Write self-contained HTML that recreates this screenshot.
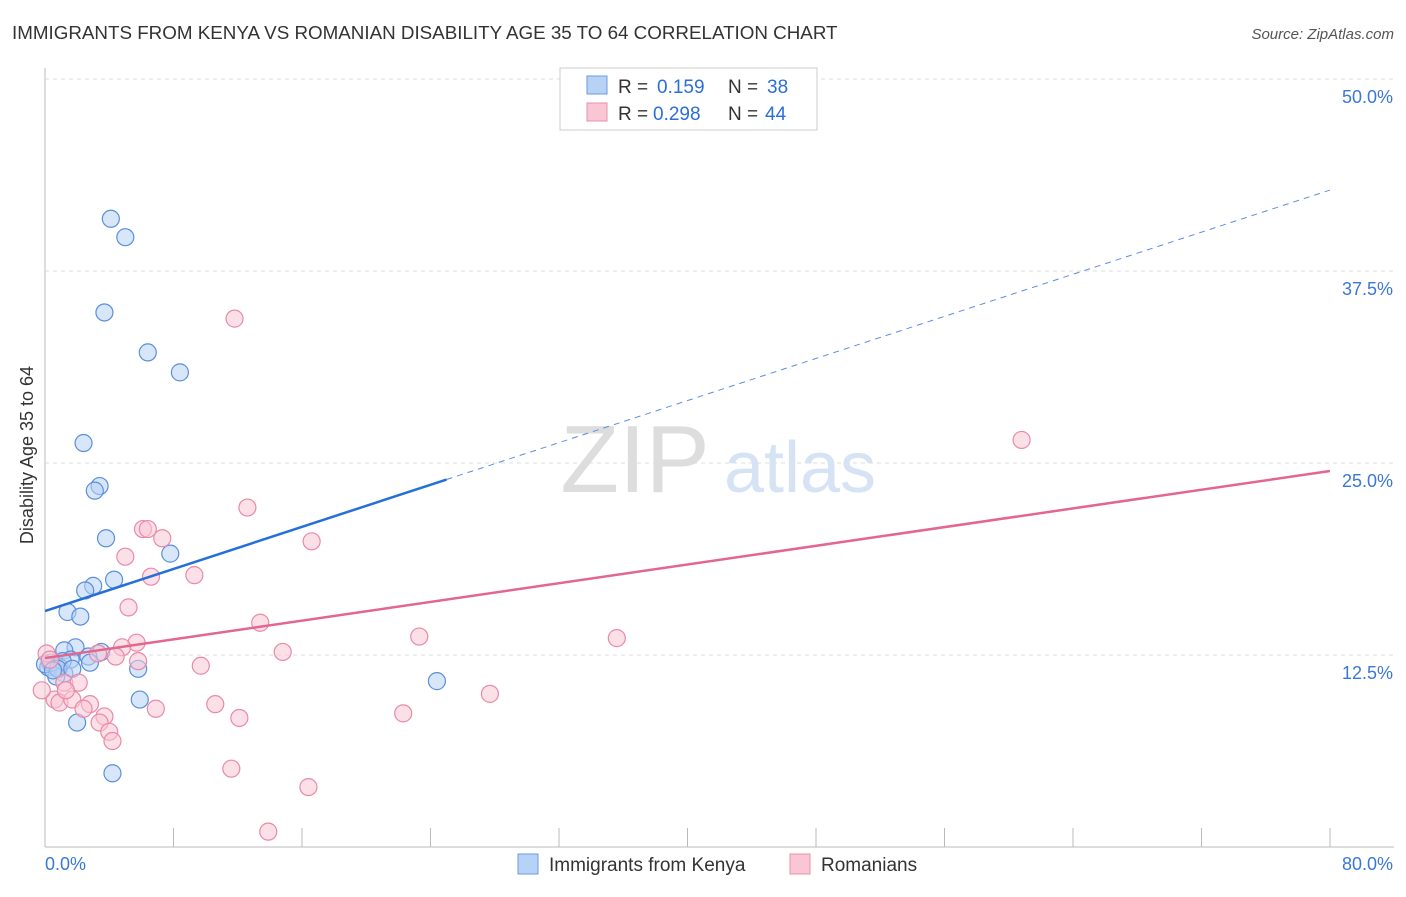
<!DOCTYPE html>
<html><head><meta charset="utf-8"><style>
body{margin:0;background:#fff;font-family:"Liberation Sans",sans-serif}
svg text{font-family:"Liberation Sans",sans-serif}
</style></head><body>
<svg id="c" width="1406" height="892">
<text x="12" y="39" font-size="18.8" fill="#333">IMMIGRANTS FROM KENYA VS ROMANIAN DISABILITY AGE 35 TO 64 CORRELATION CHART</text>
<text x="1394" y="39" font-size="15" fill="#555" font-style="italic" text-anchor="end">Source: ZipAtlas.com</text>
<text x="0" y="0" font-size="18" fill="#333" transform="translate(33,455) rotate(-90)" text-anchor="middle">Disability Age 35 to 64</text>
<g id="grid"></g>
<text x="635" y="492" font-size="96" fill="#ddd" font-family="Liberation Serif" text-anchor="middle">ZIP</text>
<text x="800" y="492" font-size="72" fill="#d6e3f5" text-anchor="middle">atlas</text>
<g id="marks"></g>
<g>
<rect x="560" y="68" width="257" height="62" fill="#fff" stroke="#ccc"/>
<rect x="587" y="76" width="20" height="18" fill="#b8d2f5" stroke="#6a9be0"/>
<rect x="587" y="103" width="20" height="18" fill="#fac6d6" stroke="#e890ab"/>
<text x="618" y="93" font-size="19" fill="#333">R =</text>
<text x="657" y="93" font-size="19" fill="#2b6fd6">0.159</text>
<text x="728" y="93" font-size="19" fill="#333">N =</text>
<text x="767" y="93" font-size="19" fill="#2b6fd6">38</text>
<text x="618" y="120" font-size="19" fill="#333">R =</text>
<text x="653" y="120" font-size="19" fill="#2b6fd6">0.298</text>
<text x="728" y="120" font-size="19" fill="#333">N =</text>
<text x="765" y="120" font-size="19" fill="#2b6fd6">44</text>
</g>
<g>
<rect x="518" y="854" width="20" height="20" fill="#b8d2f5" stroke="#6a9be0"/>
<text x="549" y="871" font-size="19" fill="#333">Immigrants from Kenya</text>
<rect x="790" y="854" width="20" height="20" fill="#fac6d6" stroke="#e890ab"/>
<text x="821" y="871" font-size="19" fill="#333">Romanians</text>
</g>
</svg>
<script>
const yTicks=[12.5,25,37.5,50];
const yTickLabels=["12.5%","25.0%","37.5%","50.0%"];
const xTickLabels=["0.0%","80.0%"];
const kenyaX=[4.1,5.0,3.7,6.4,8.4,2.4,3.4,3.1,3.8,7.8,4.3,3.0,2.5,1.4,2.2,1.9,1.2,3.5,2.7,2.8,1.6,0.3,0.6,0.9,0.2,1.2,0.7,5.8,24.4,5.9,2.0,4.2,0.4,1.1,0.0,0.8,1.7,0.5];
const kenyaY=[40.9,39.7,34.8,32.2,30.9,26.3,23.5,23.2,20.1,19.1,17.4,17.0,16.7,15.3,15.0,13.0,12.8,12.7,12.4,12.0,12.2,12.0,11.9,11.7,11.7,11.3,11.1,11.6,10.8,9.6,8.1,4.8,12.0,12.1,11.9,11.6,11.6,11.5];
const romX=[11.8,60.8,12.6,6.1,6.4,7.3,16.6,5.0,6.6,9.3,5.2,13.4,23.3,35.6,5.7,4.8,3.3,14.8,0.1,5.8,9.7,1.2,2.1,0.6,0.9,1.7,2.8,2.4,27.7,10.6,6.9,3.7,3.4,12.1,22.3,4.0,4.2,11.6,16.4,13.9,0.3,1.3,4.4,-0.2];
const romY=[34.4,26.5,22.1,20.7,20.7,20.1,19.9,18.9,17.6,17.7,15.6,14.6,13.7,13.6,13.3,13.0,12.6,12.7,12.6,12.1,11.8,10.7,10.7,9.6,9.4,9.6,9.3,9.0,9.97,9.3,9.0,8.5,8.1,8.4,8.7,7.5,6.9,5.1,3.9,1.0,12.2,10.2,12.4,10.2];
const kenyaLine=[15.36,42.77], kenyaSolidEnd=25.0;
const romLine=[12.3,24.48];
const X=v=>45+v*1285/80, Y=v=>847-v*15.36;
const NS="http://www.w3.org/2000/svg";
function mk(t,a,p){const e=document.createElementNS(NS,t);for(const k in a)e.setAttribute(k,a[k]);p.appendChild(e);return e;}
const g=document.getElementById('grid'), m=document.getElementById('marks');
mk('line',{x1:45,y1:68,x2:45,y2:847,stroke:'#bbb'},g);
mk('line',{x1:45,y1:847,x2:1394,y2:847,stroke:'#bbb'},g);
yTicks.forEach((t,i)=>{
 const l=mk('line',{x1:45,y1:Y(t),x2:1394,y2:Y(t),stroke:'#ddd','stroke-dasharray':'4,4'},g);
 
 
 const tx=mk('text',{x:1393,y:Y(t)+24,'font-size':18,fill:'#3a78d6','text-anchor':'end'},g);
 tx.textContent=yTickLabels[i];
 
 
});
for(let i=0;i<=10;i++){const x=45+i*128.5;const t=mk('line',{x1:x,y1:828,x2:x,y2:847,stroke:'#bbb'},g);
 
 }
[[45,'start',0],[1393,'end',1]].forEach(([x,a,i])=>{const t=mk('text',{x:x,y:870,'font-size':18,fill:'#3a78d6','text-anchor':a},g);t.textContent=xTickLabels[i];
 
 });
function pts(xs,ys,fill,stroke,name){xs.forEach((x,i)=>{const c=mk('circle',{cx:X(x),cy:Y(ys[i]),r:8.5,fill:fill,'fill-opacity':0.55,stroke:stroke,'stroke-width':1.2},m);
 
 });}
pts(kenyaX,kenyaY,'#b8d2f5','#5b8fdc','kenya-point');
pts(romX,romY,'#fac6d6','#e88aa8','romanian-point');
const ky=x=>kenyaLine[0]+(kenyaLine[1]-kenyaLine[0])*x/80;
let l1=mk('line',{x1:X(0),y1:Y(ky(0)),x2:X(kenyaSolidEnd),y2:Y(ky(kenyaSolidEnd)),stroke:'#2470d8','stroke-width':2.5},m);


let l2=mk('line',{x1:X(kenyaSolidEnd),y1:Y(ky(kenyaSolidEnd)),x2:X(80),y2:Y(ky(80)),stroke:'#5b8fdc','stroke-width':1,'stroke-dasharray':'6,5'},m);


let l3=mk('line',{x1:X(0),y1:Y(romLine[0]),x2:X(80),y2:Y(romLine[1]),stroke:'#e3668f','stroke-width':2.5},m);


</script>
</body></html>
